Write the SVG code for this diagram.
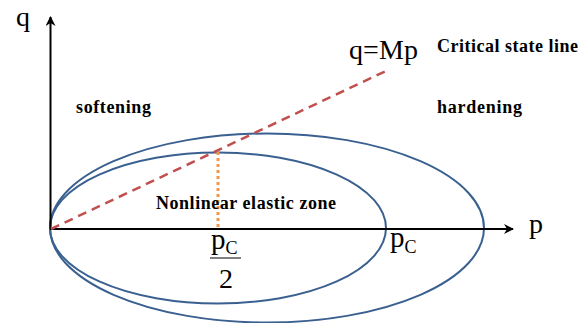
<svg xmlns="http://www.w3.org/2000/svg" width="588" height="323" viewBox="0 0 588 323">
<defs>
<marker id="arr" viewBox="0 0 10 10" refX="9" refY="5" markerWidth="10" markerHeight="10" markerUnits="userSpaceOnUse" orient="auto">
<path d="M0,0 L10,5 L0,10 L3,5 Z" fill="#000"/>
</marker>
<style>
.ax{stroke:#000;stroke-width:2;fill:none}
.ell{stroke:#3A6090;stroke-width:2;fill:none}
.sym{font-family:"Liberation Serif",serif;fill:#000}
.lbl{font-family:"Liberation Serif",serif;font-weight:bold;font-size:18px;fill:#000}
</style>
</defs>
<rect width="588" height="323" fill="#fff"/>
<g id="ellipses">
<ellipse id="inner-yield" class="ell" cx="218" cy="228" rx="168" ry="75.5"/>
<ellipse id="outer-yield" class="ell" cx="267" cy="228" rx="217" ry="94.5"/>
</g>
<g id="connectors">
<line class="ax" x1="50.5" y1="229" x2="50.5" y2="17" marker-end="url(#arr)"/>
<line class="ax" x1="50" y1="229" x2="513" y2="229" marker-end="url(#arr)"/>
<line x1="51" y1="229" x2="388" y2="70" stroke="#C0504D" stroke-width="2.5" stroke-dasharray="9,6"/>
<line x1="218" y1="152" x2="218" y2="229" stroke="#F79646" stroke-width="3" stroke-dasharray="3,3"/>
</g>
<g id="axis-labels">
<text class="sym" x="16" y="26" font-size="28">q</text>
<text class="sym" x="529" y="233" font-size="28">p</text>
</g>
<g id="csl">
<text class="sym" x="349" y="59" font-size="28" textLength="69">q=Mp</text>
<text class="lbl" x="437" y="52" textLength="141">Critical state line</text>
</g>
<g id="softening"><text class="lbl" x="76" y="113" textLength="75">softening</text></g>
<g id="hardening"><text class="lbl" x="437" y="113" textLength="85">hardening</text></g>
<g id="elastic-zone"><text class="lbl" x="156" y="209" textLength="180">Nonlinear elastic zone</text></g>
<g id="pc-half">
<text class="sym" x="211" y="249" font-size="29">p<tspan font-size="18" dy="5">C</tspan></text>
<line x1="210" y1="258" x2="241" y2="258" stroke="#000" stroke-width="1"/>
<text class="sym" x="226" y="288" font-size="28" text-anchor="middle">2</text>
</g>
<g id="pc">
<text class="sym" x="390" y="247" font-size="29">p<tspan font-size="18" dy="6">C</tspan></text>
</g>
</svg>
